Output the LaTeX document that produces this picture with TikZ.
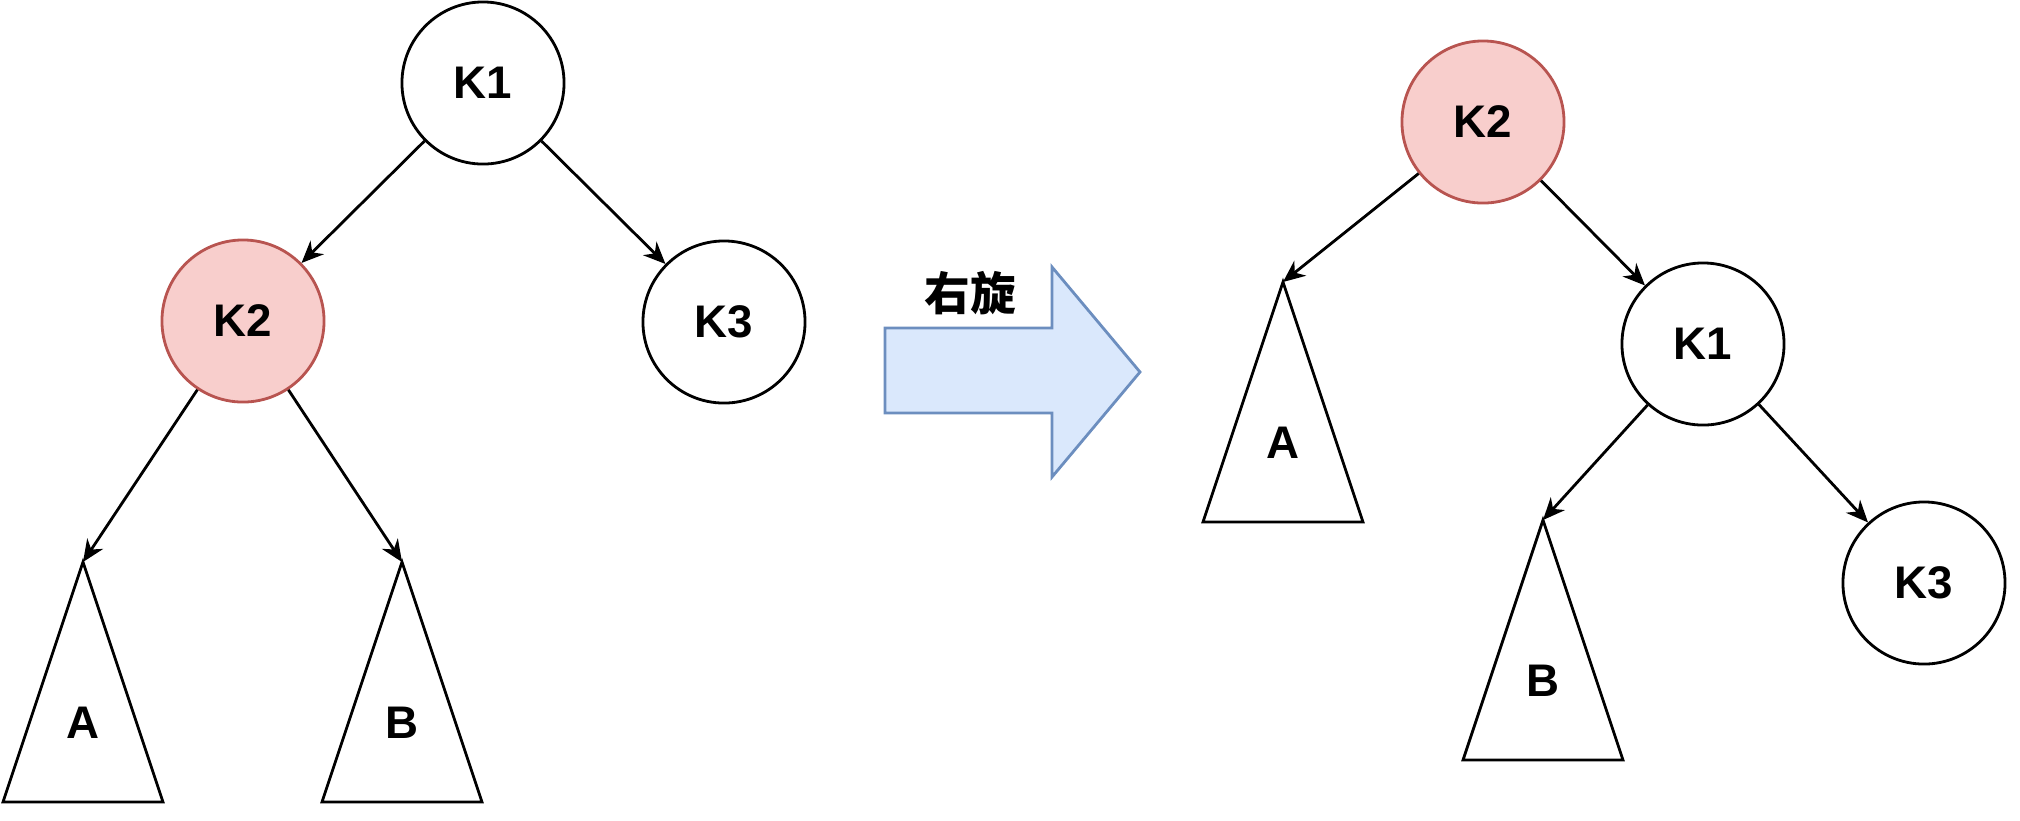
\documentclass[tikz,border=0pt]{standalone}
\usepackage{fontspec}
\setmainfont{Liberation Sans}
\newfontfamily\cjk{Noto Sans CJK SC}
\usepackage{xcolor}
\usetikzlibrary{arrows.meta}
\definecolor{redfill}{HTML}{F8CECC}
\definecolor{redline}{HTML}{B85450}
\definecolor{bluefill}{HTML}{DAE8FC}
\definecolor{blueline}{HTML}{6C8EBF}

\begin{document}
\begin{tikzpicture}[
      x=0.01cm, y=-0.01cm,
      key/.style={circle, draw, line width=0.8pt, minimum size=1.62cm, inner sep=0pt,
        fill=white, font=\fontsize{13}{15}\selectfont\bfseries},
      hot/.style={fill=redfill, draw=redline},
      sub/.style={draw, line width=0.8pt, line join=miter, fill=white},
      lbl/.style={font=\fontsize{13}{15}\selectfont\bfseries},
      link/.style={-{Stealth[length=2.2mm, width=1.9mm, inset=0.7mm]}, line width=0.8pt},
      bigarrow/.style={draw=blueline, fill=bluefill, line width=0.8pt, line join=miter},
    ]
    \useasboundingbox (0,0) rectangle (2020,820);
    % subtrees: apex coordinate + triangle + label
    \foreach \nm/\ax/\ay/\lab in {%
        lA/83/562/A, lB/402/562/B, rA/1283/282/A, rB/1543/520/B} {
      \coordinate (\nm) at (\ax,\ay);
      \draw[sub] (\nm) -- ++(-80,240) -- ++(160,0) -- cycle;
      \node[lbl] (\nm-l) at (\ax,\ay+161) {\lab};
    }
    % before rotation
    \node[key] (lk1) at (483,83) {K1};
    \node[key, hot] (lk2) at (243,321) {K2};
    \node[key] (lk3) at (724,322) {K3};
    \draw[link] (lk1) -- (lk2);
    \draw[link] (lk1) -- (lk3);
    \draw[link] (lk2) -- (lA);
    \draw[link] (lk2) -- (lB);
    % rotate arrow
    \draw[bigarrow] (885,328) -- (1052,328) -- (1052,267) -- (1140,372)
      -- (1052,477) -- (1052,413) -- (885,413) -- cycle;
    \node[font=\fontsize{13}{15}\selectfont\cjk\bfseries] (rot) at (970,293) {右旋};
    % after rotation
    \node[key, hot] (rk2) at (1483,122) {K2};
    \node[key] (rk1) at (1703,344) {K1};
    \node[key] (rk3) at (1924,583) {K3};
    \draw[link] (rk2) -- (rA);
    \draw[link] (rk2) -- (rk1);
    \draw[link] (rk1) -- (rB);
    \draw[link] (rk1) -- (rk3);
  \end{tikzpicture}
\end{document}
